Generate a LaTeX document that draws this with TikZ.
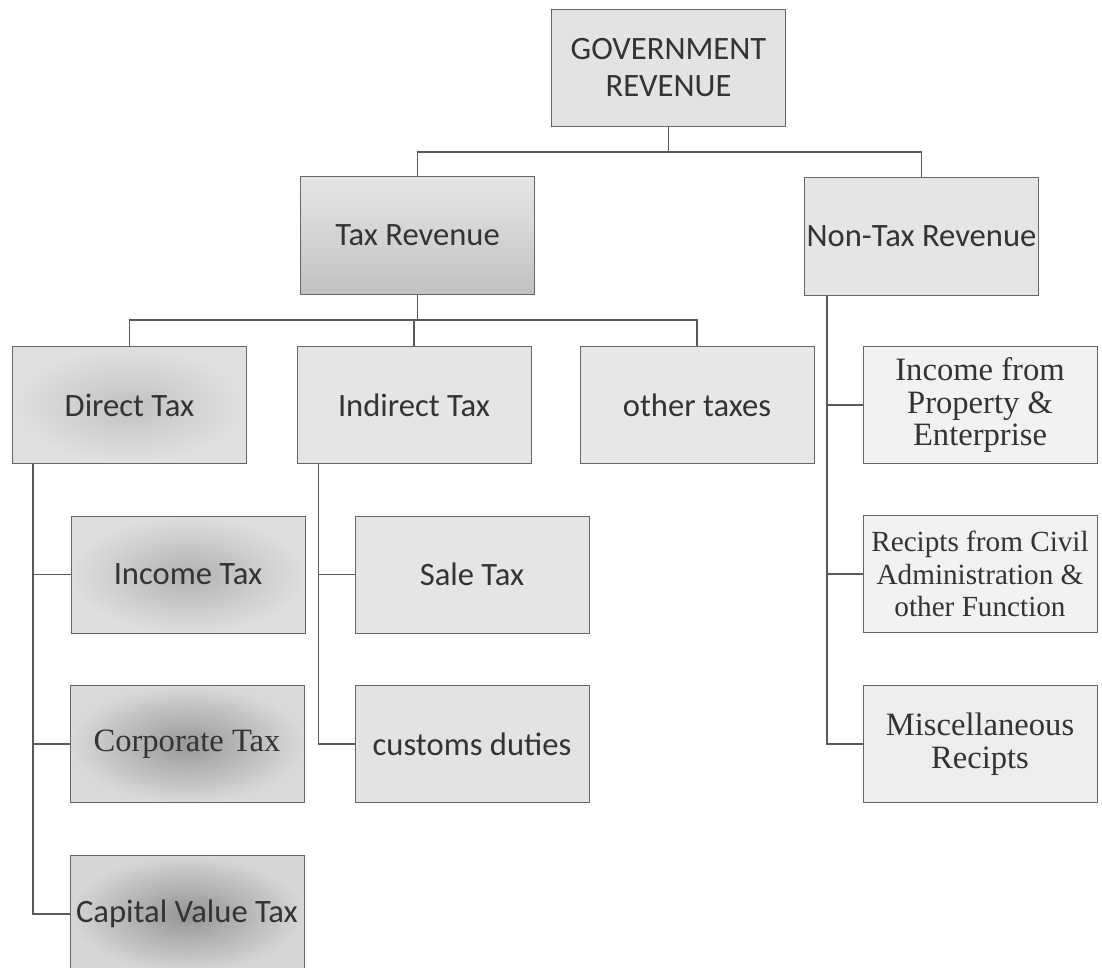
\documentclass[tikz,border=0pt]{standalone}
\usepackage{fontspec}
\setmainfont{Liberation Serif}
\setsansfont{Carlito}

\begin{document}
\begin{tikzpicture}[x=0.5pt,y=-0.5pt,
    box/.style={draw=black!60,line width=0.5pt,minimum width=117pt,minimum height=58.5pt,inner sep=1pt,align=center,text=black!80},
    sbox/.style={box,font=\sffamily\fontsize{16.3}{18.5}\selectfont},
    rbox/.style={box,fill=black!5,font=\fontsize{16.3}{16.3}\selectfont},
    link/.style={draw=black!65,line width=0.8pt}]
				\useasboundingbox (0,0) rectangle (1102,968);

				\node (gr) at (668.5,68) [sbox,fill=black!11] {GOVERNMENT\\REVENUE};
				\node (tr) at (417.5,235.5) [sbox,top color=black!10,bottom color=black!24] {Tax Revenue};
				\node (ntr) at (921.5,236.5) [sbox,fill=black!10] {Non-Tax Revenue};

				\node (dt) at (129.5,405) [sbox,inner color=black!24,outer color=black!12] {Direct Tax};
				\node (it) at (414,405) [sbox,fill=black!10] {Indirect Tax};
				\node (ot) at (697,405) [sbox,fill=black!9] {other taxes};
				\node (ipe) at (980,405) [rbox] {Income from\\Property \&\\Enterprise};

				\node (itx) at (188,574.5) [sbox,inner color=black!30,outer color=black!13] {Income Tax};
				\node (st) at (472,574.5) [sbox,fill=black!10] {Sale Tax};
				\node (rca) at (980,574) [rbox,font=\fontsize{14.6}{16.3}\selectfont] {Recipts from Civil\\Administration \&\\other Function};

				\node (ct) at (187,744) [box,font=\fontsize{16.3}{16.3}\selectfont,inner color=black!40,outer color=black!15] {Corporate Tax};
				\node (cd) at (472,744) [sbox,fill=black!11] {customs duties};
				\node (mr) at (980,744) [rbox,fill=black!7] {Miscellaneous\\Recipts};

				\node (cvt) at (187,914) [sbox,inner color=black!42,outer color=black!16] {Capital Value Tax};

				\coordinate (b1) at (0,152);
				\coordinate (b2) at (0,320);
				\coordinate (d1) at ([xshift=10.5pt]dt.south west);
				\coordinate (i1) at ([xshift=11pt]it.south west);
				\coordinate (n1) at ([xshift=11.5pt]ntr.south west);

				\draw[link] (gr.south) -- (gr.south|-b1);
				\draw[link] (tr.north) -- (tr.north|-b1) -| (ntr.north);
				\draw[link] (tr.south) -- (tr.south|-b2);
				\draw[link] (dt.north) -- (dt.north|-b2) -| (ot.north);
				\draw[link] (it.north) -- (it.north|-b2);

				\draw[link] (d1) |- (itx.west);
				\draw[link] (d1) |- (ct.west);
				\draw[link] (d1) |- (cvt.west);
				\draw[link] (i1) |- (st.west);
				\draw[link] (i1) |- (cd.west);
				\draw[link] (n1) |- (ipe.west);
				\draw[link] (n1) |- (rca.west);
				\draw[link] (n1) |- (mr.west);
\end{tikzpicture}
\end{document}
